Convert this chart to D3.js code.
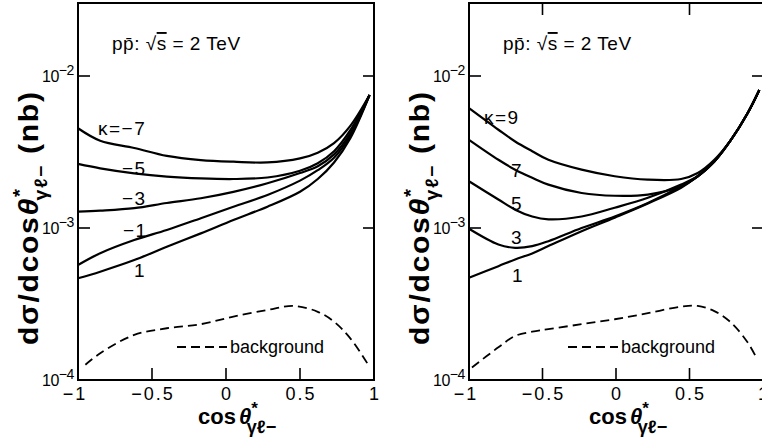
<!DOCTYPE html>
<html>
<head>
<meta charset="utf-8">
<script src="https://cdn.jsdelivr.net/npm/d3@7"></script>
<style>
  html, body { margin: 0; padding: 0; background: #fff; }
  svg { display: block; }
  text { font-family: "Liberation Sans", Arial, sans-serif; fill: #000; }
</style>
</head>
<body>
<svg id="chart" width="762" height="446"></svg>
<script>
// cos(theta*) sample points for each panel
const cosLeft  = [-1, -0.85, -0.62, -0.40, -0.17, 0.05, 0.28, 0.50, 0.62, 0.73, 0.84, 0.97];
const cosLeftBg = [-0.95, -0.85, -0.62, -0.40, -0.17, 0.05, 0.28, 0.46, 0.62, 0.73, 0.84, 0.97];
const cosRight = [-1, -0.80, -0.686, -0.57, -0.46, -0.234, -0.009, 0.217, 0.443, 0.556, 0.669, 0.782, 0.895, 0.975];
const cosRightBg = [-0.98, -0.80, -0.686, -0.57, -0.46, -0.234, -0.009, 0.217, 0.443, 0.556, 0.669, 0.782, 0.895, 0.96];

// dsigma/dcos(theta*) in nb, left panel (kappa = -7, -5, -3, -1, 1)
const kappaLeft = ["\u03BA=\u22127", "\u22125", "\u22123", "\u22121", "1"];
const leftK7  = [4.53e-3, 3.75e-3, 3.36e-3, 2.98e-3, 2.80e-3, 2.73e-3, 2.70e-3, 2.87e-3, 3.13e-3, 3.62e-3, 4.70e-3, 7.5e-3];
const leftK5  = [2.64e-3, 2.47e-3, 2.29e-3, 2.18e-3, 2.12e-3, 2.10e-3, 2.15e-3, 2.38e-3, 2.67e-3, 3.20e-3, 4.40e-3, 7.5e-3];
const leftK3  = [1.28e-3, 1.30e-3, 1.35e-3, 1.46e-3, 1.57e-3, 1.73e-3, 1.97e-3, 2.30e-3, 2.55e-3, 3.05e-3, 4.20e-3, 7.5e-3];
const leftK1m = [5.71e-4, 6.83e-4, 8.34e-4, 9.70e-4, 1.16e-3, 1.38e-3, 1.65e-3, 2.05e-3, 2.40e-3, 2.90e-3, 4.05e-3, 7.5e-3];
const leftK1  = [4.67e-4, 5.16e-4, 6.15e-4, 7.53e-4, 9.22e-4, 1.13e-3, 1.38e-3, 1.73e-3, 2.10e-3, 2.70e-3, 3.90e-3, 7.5e-3];
const leftBg  = [1.26e-4, 1.50e-4, 1.98e-4, 2.19e-4, 2.33e-4, 2.61e-4, 2.89e-4, 3.07e-4, 2.81e-4, 2.42e-4, 1.88e-4, 1.22e-4];

// dsigma/dcos(theta*) in nb, right panel (kappa = 9, 7, 5, 3, 1)
const kappaRight = ["\u03BA=9", "7", "5", "3", "1"];
const rightK9 = [6.14e-3, 4.43e-3, 3.71e-3, 3.20e-3, 2.81e-3, 2.42e-3, 2.19e-3, 2.08e-3, 2.10e-3, 2.30e-3, 2.81e-3, 3.80e-3, 5.69e-3, 8.1e-3];
const rightK7 = [3.80e-3, 2.81e-3, 2.42e-3, 2.14e-3, 1.93e-3, 1.70e-3, 1.63e-3, 1.66e-3, 1.88e-3, 2.19e-3, 2.74e-3, 3.80e-3, 5.69e-3, 8.1e-3];
const rightK5 = [2.03e-3, 1.54e-3, 1.32e-3, 1.19e-3, 1.14e-3, 1.19e-3, 1.36e-3, 1.58e-3, 1.93e-3, 2.19e-3, 2.74e-3, 3.80e-3, 5.69e-3, 8.1e-3];
const rightK3 = [9.88e-4, 7.79e-4, 7.41e-4, 7.60e-4, 8.19e-4, 1.00e-3, 1.19e-3, 1.46e-3, 1.88e-3, 2.19e-3, 2.74e-3, 3.80e-3, 5.69e-3, 8.1e-3];
const rightK1 = [4.71e-4, 5.61e-4, 6.21e-4, 6.80e-4, 7.60e-4, 9.53e-4, 1.17e-3, 1.45e-3, 1.84e-3, 2.19e-3, 2.74e-3, 3.80e-3, 5.69e-3, 8.1e-3];
const rightBg = [1.21e-4, 1.64e-4, 1.95e-4, 2.08e-4, 2.16e-4, 2.33e-4, 2.51e-4, 2.75e-4, 3.04e-4, 3.07e-4, 2.84e-4, 2.39e-4, 1.77e-4, 1.37e-4];

// axis ticks
const xTicks = [-1, -0.5, 0, 0.5, 1];
const xTickLabels = ["\u22121", "\u22120.5", "0", "0.5", "1"];
const xTopTicks = [-0.5, 0.5];
const yTicks = [1e-4, 1e-3, 1e-2];
const yTickExps = ["\u22124", "\u22123", "\u22122"];

const svg = d3.select("#chart");

function drawPanel(opt) {
  const x = d3.scaleLinear().domain([-1, 1]).range([opt.left, opt.right]);
  const y = d3.scaleLog().domain([1e-4, Math.pow(10, -2 + 73 / 152)]).range([380, 3]);
  const g = svg.append("g");

  // frame
  g.append("rect")
    .attr("x", opt.left).attr("y", y.range()[1])
    .attr("width", opt.right - opt.left).attr("height", y.range()[0] - y.range()[1])
    .attr("fill", "none").attr("stroke", "#000").attr("stroke-width", 2);

  // inward ticks along the bottom (and top)
  const inner = xTicks.slice(1, -1);
  g.selectAll(".xb").data(inner).join("line")
    .attr("x1", d => x(d)).attr("x2", d => x(d))
    .attr("y1", 380).attr("y2", 368)
    .attr("stroke", "#000").attr("stroke-width", 1.6);
  if (opt.topTicks) {
    g.selectAll(".xt").data(xTopTicks).join("line")
      .attr("x1", d => x(d)).attr("x2", d => x(d))
      .attr("y1", 3).attr("y2", 15)
      .attr("stroke", "#000").attr("stroke-width", 1.6);
  }
  // inward ticks on both sides at the decades
  const innerY = yTicks.slice(1);
  g.selectAll(".yl").data(innerY).join("line")
    .attr("x1", opt.left).attr("x2", opt.left + 12)
    .attr("y1", d => y(d)).attr("y2", d => y(d))
    .attr("stroke", "#000").attr("stroke-width", 1.6);
  g.selectAll(".yr").data(innerY).join("line")
    .attr("x1", opt.right).attr("x2", opt.right - 11)
    .attr("y1", d => y(d)).attr("y2", d => y(d))
    .attr("stroke", "#000").attr("stroke-width", 1.6);

  // x tick labels
  g.selectAll(".xl").data(xTicks).join("text")
    .attr("x", (d, i) => x(d) + (i === 0 ? -3 : 1))
    .attr("y", 400)
    .attr("text-anchor", "middle")
    .attr("font-size", 18)
    .attr("letter-spacing", 2)
    .text((d, i) => xTickLabels[i]);

  // y tick labels: 10 with exponent
  yTicks.forEach((d, i) => {
    const t = g.append("text")
      .attr("x", opt.left - 36).attr("y", y(d) + 6)
      .attr("font-size", 16).attr("letter-spacing", -0.5);
    t.append("tspan").text("10");
    t.append("tspan").attr("dy", -7).attr("font-size", 14).text(yTickExps[i]);
  });

  // curves
  const lineOn = xs => d3.line()
    .x((d, i) => x(xs[i]))
    .y(d => y(d))
    .curve(d3.curveCatmullRom.alpha(0.5));
  opt.series.forEach(s => {
    g.append("path").attr("d", lineOn(opt.cos)(s))
      .attr("fill", "none").attr("stroke", "#000").attr("stroke-width", 2.2);
  });
  g.append("path").attr("d", lineOn(opt.cosBg)(opt.bg))
    .attr("fill", "none").attr("stroke", "#000").attr("stroke-width", 1.8)
    .attr("stroke-dasharray", "9,5");

  // curve labels
  opt.labels.forEach((lab, i) => {
    g.append("text")
      .attr("x", opt.labelPos[i][0]).attr("y", opt.labelPos[i][1])
      .attr("font-size", 19).attr("letter-spacing", 1.5)
      .text(lab);
  });

  // background legend
  g.append("line")
    .attr("x1", opt.legX).attr("x2", opt.legX + 50)
    .attr("y1", 347).attr("y2", 347)
    .attr("stroke", "#000").attr("stroke-width", 1.8)
    .attr("stroke-dasharray", "9,5");
  g.append("text")
    .attr("x", opt.legX + 53).attr("y", 353)
    .attr("font-size", 18)
    .text("background");

  // process annotation
  const ann = g.append("text")
    .attr("x", opt.left + 34).attr("y", 50)
    .attr("font-size", 19).attr("letter-spacing", 0.5);
  ann.append("tspan").text("p");
  ann.append("tspan").text("p\u0304");
  ann.append("tspan").text(":  \u221A");
  ann.append("tspan").attr("text-decoration", "overline").text("s");
  ann.append("tspan").text(" = 2 TeV");

  // x axis title
  const xt = g.append("text")
    .attr("x", opt.left + 120).attr("y", 424)
    .attr("font-size", 22).attr("font-weight", "bold");
  xt.append("tspan").text("cos");
  xt.append("tspan").attr("dx", 3).attr("font-style", "italic").text("\u03B8");
  xt.append("tspan").attr("dy", -10).attr("font-size", 17).text("*");
  xt.append("tspan").attr("dx", -11).attr("dy", 19).attr("font-size", 18).text("\u03B3\u2113\u2212");

  // y axis title, stretched along its reading direction
  const yt = g.append("text")
    .attr("transform", `translate(${opt.left - 40},345) rotate(-90) scale(1.08,1)`)
    .attr("font-size", 28).attr("font-weight", "bold").attr("letter-spacing", 1.5);
  yt.append("tspan").text("d\u03C3/dcos");
  yt.append("tspan").attr("font-style", "italic").text("\u03B8");
  yt.append("tspan").attr("dy", -12).attr("font-size", 19).text("*");
  yt.append("tspan").attr("dx", -12).attr("dy", 21).attr("font-size", 18).text("\u03B3\u2113\u2212");
  yt.append("tspan").attr("dy", -9).text(" (nb)");
}

drawPanel({
  left: 78, right: 374, topTicks: false,
  cos: cosLeft, cosBg: cosLeftBg,
  series: [leftK7, leftK5, leftK3, leftK1m, leftK1],
  bg: leftBg,
  labels: kappaLeft,
  labelPos: [[98, 135], [122, 175], [122, 205], [123, 237], [134, 277]],
  legX: 177
});

drawPanel({
  left: 469, right: 763, topTicks: true,
  cos: cosRight, cosBg: cosRightBg,
  series: [rightK9, rightK7, rightK5, rightK3, rightK1],
  bg: rightBg,
  labels: kappaRight,
  labelPos: [[484, 124], [511, 177], [511, 210], [511, 244], [512, 282]],
  legX: 568
});
</script>
</body>
</html>
